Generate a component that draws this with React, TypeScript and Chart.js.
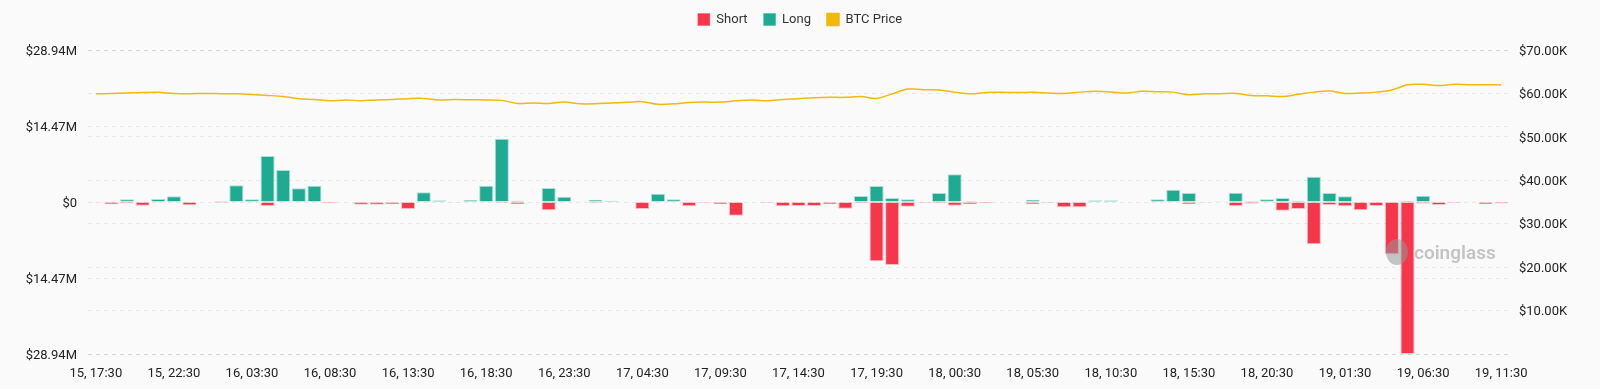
import React, { useEffect, useRef } from 'react';
import { Chart, registerables } from 'chart.js';

Chart.register(...registerables);

const FONT = "Roboto, 'Noto Sans', sans-serif";

// hourly categories, 15 17:30 -> 19 11:30
const START_DAY = 15;
const START_HOUR = 17;
const COUNT = 91;
const categories: string[] = Array.from({ length: COUNT }, (_, i) => {
  const h = START_HOUR + i;
  const d = START_DAY + Math.floor(h / 24);
  return `${d}, ${String(h % 24).padStart(2, '0')}:30`;
});

// Long liquidations ($M)
const longVals: number[] = [
  0.05, 0.05, 0.5, 0.05, 0.57, 1.08, 0.1, 0.1, 0.19, 3.17,
  0.5, 8.76, 6.1, 2.6, 3.1, 0.05, 0.1, 0, 0, 0,
  0.1, 1.84, 0.32, 0, 0.38, 3.1, 12.06, 0.25, 0.1, 2.67,
  1.0, 0.05, 0.44, 0.25, 0, 0, 1.59, 0.5, 0, 0,
  0, 0, 0.1, 0, 0, 0, 0, 0.05, 0, 1.14,
  3.05, 0.76, 0.5, 0.1, 1.71, 5.27, 0.19, 0, 0, 0.1,
  0.44, 0.05, 0, 0, 0.32, 0.32, 0, 0, 0.5, 2.35,
  1.71, 0, 0.15, 1.78, 0.19, 0.5, 0.76, 0.25, 4.82, 1.71,
  1.08, 0, 0, 0, 0.25, 1.2, 0.13, 0.05, 0.05, 0,
  0.05,
];

// Short liquidations ($M, magnitude)
const shortVals: number[] = [
  0.12, 0.45, 0.3, 0.7, 0.05, 0.05, 0.63, 0, 0.2, 0.1,
  0.05, 0.76, 0, 0, 0, 0.25, 0, 0.5, 0.5, 0.45,
  1.33, 0, 0, 0.15, 0.1, 0.1, 0.2, 0.45, 0.1, 1.59,
  0, 0.1, 0.2, 0.1, 0.1, 1.33, 0, 0, 0.82, 0.02,
  0.45, 2.6, 0, 0.2, 0.82, 0.76, 0.76, 0.44, 1.27, 0.25,
  11.3, 12.0, 0.89, 0.2, 0.25, 0.7, 0.44, 0.25, 0.1, 0,
  0.44, 0.2, 1.0, 1.0, 0, 0, 0.1, 0.1, 0, 0,
  0.44, 0.15, 0, 0.76, 0.32, 0.05, 1.65, 1.33, 8.06, 0.57,
  0.82, 1.59, 0.76, 9.97, 28.94, 0.32, 0.57, 0.2, 0.1, 0.44,
  0.3,
];

// BTC price ($K)
const priceVals: number[] = [
  59.9, 60.0, 60.1, 60.2, 60.25, 60.0, 59.95, 60.0, 59.95, 59.9,
  59.75, 59.55, 59.3, 58.8, 58.6, 58.3, 58.5, 58.3, 58.5, 58.6,
  58.8, 58.85, 58.5, 58.6, 58.55, 58.5, 58.4, 57.7, 57.8, 57.7,
  58.0, 57.6, 57.6, 57.8, 57.95, 58.1, 57.5, 57.6, 57.9, 58.0,
  58.0, 58.3, 58.5, 58.3, 58.6, 58.8, 59.0, 59.1, 59.1, 59.3,
  58.85, 59.9, 61.0, 60.85, 60.8, 60.3, 59.9, 60.2, 60.25, 60.2,
  60.25, 60.1, 60.0, 60.3, 60.5, 60.35, 60.1, 60.5, 60.4, 60.3,
  59.7, 59.9, 59.95, 60.0, 59.5, 59.45, 59.3, 59.8, 60.3, 60.55,
  60.0, 60.1, 60.3, 60.8, 62.0, 62.1, 61.8, 62.1, 62.0, 62.0,
  61.95,
];

const leftTicks: number[] = [-28.94, -14.47, 0, 14.47, 28.94];
const rightTicks: number[] = [0, 10, 20, 30, 40, 50, 60, 70];

const RED = 'rgb(246, 54, 74)';
const TEAL = 'rgb(31, 170, 146)';
const YELLOW = 'rgb(240, 185, 11)';

const legendSpacer = {
  id: 'legendSpacer',
  beforeInit(chart: any) {
    const fit = chart.legend.fit;
    chart.legend.fit = function () {
      fit.call(this);
      this.height = 50;
    };
  },
  afterLayout(chart: any) {
    chart.legend.top = -3;
  },
};

const watermark = {
  id: 'watermark',
  afterDatasetsDraw(chart: any) {
    const ctx = chart.ctx;
    ctx.save();
    ctx.fillStyle = 'rgba(150, 150, 150, 0.55)';
    ctx.beginPath();
    ctx.ellipse(1397, 252, 11, 13, 0, 0, Math.PI * 2);
    ctx.fill();
    ctx.font = `600 19px ${FONT}`;
    ctx.textAlign = 'left';
    ctx.textBaseline = 'middle';
    ctx.fillText('coinglass', 1414, 254);
    ctx.restore();
  },
};

export default function App() {
  const ref = useRef<HTMLCanvasElement>(null);
  useEffect(() => {
    document.body.style.margin = '0';
    const gridCommon = {
      color: 'rgba(0, 0, 0, 0.07)',
      drawTicks: false,
    };
    const chart = new Chart(ref.current!, {
      type: 'bar',
      data: {
        labels: categories,
        datasets: [
          {
            type: 'bar',
            label: 'Short',
            data: shortVals.map((v) => -v),
            backgroundColor: RED,
            borderColor: 'rgba(246, 54, 74, 0.3)',
            borderWidth: 1,
            yAxisID: 'y',
            barPercentage: 0.95,
            categoryPercentage: 0.95,
          },
          {
            type: 'bar',
            label: 'Long',
            data: longVals,
            backgroundColor: TEAL,
            borderColor: 'rgba(31, 170, 146, 0.35)',
            borderWidth: 1,
            yAxisID: 'y',
            barPercentage: 0.95,
            categoryPercentage: 0.95,
          },
          {
            type: 'line',
            label: 'BTC Price',
            data: priceVals,
            borderColor: YELLOW,
            backgroundColor: YELLOW,
            borderWidth: 1.5,
            pointRadius: 0,
            tension: 0.35,
            fill: false,
            yAxisID: 'y1',
          } as any,
        ],
      },
      options: {
        animation: false,
        responsive: true,
        maintainAspectRatio: false,
        layout: { padding: 0 },
        plugins: {
          legend: {
            display: true,
            position: 'top',
            align: 'center',
            labels: {
              boxWidth: 12,
              boxHeight: 12,
              padding: 16,
              color: '#333',
              font: { family: FONT, size: 13 },
            },
          },
          tooltip: { enabled: false },
        },
        scales: {
          x: {
            stacked: true,
            grid: { display: false, drawTicks: false },
            border: { display: false },
            ticks: {
              autoSkip: false,
              maxRotation: 0,
              minRotation: 0,
              padding: 12,
              color: '#222',
              font: { family: FONT, size: 13 },
              callback: (_v: any, i: number) => (i % 5 === 0 ? categories[i] : ''),
            },
            afterFit: (s: any) => {
              s.height = 35;
            },
          },
          y: {
            stacked: true,
            position: 'left',
            min: leftTicks[0],
            max: leftTicks[leftTicks.length - 1],
            grid: gridCommon,
            border: { display: false, dash: [4, 4] },
            afterBuildTicks: (s: any) => {
              s.ticks = leftTicks.map((v) => ({ value: v }));
            },
            ticks: {
              padding: 11,
              labelOffset: 1.5,
              color: '#222',
              font: { family: FONT, size: 13 },
              callback: (v: any) => (Number(v) === 0 ? '$0' : '$' + Math.abs(Number(v)).toFixed(2) + 'M'),
            },
            afterFit: (s: any) => {
              s.width = 88;
            },
          },
          y1: {
            position: 'right',
            min: rightTicks[0],
            max: rightTicks[rightTicks.length - 1],
            grid: gridCommon,
            border: { display: false, dash: [4, 4] },
            afterBuildTicks: (s: any) => {
              s.ticks = rightTicks.map((v) => ({ value: v }));
            },
            ticks: {
              padding: 10,
              labelOffset: 1.5,
              color: '#222',
              font: { family: FONT, size: 13 },
              callback: (v: any) => (Number(v) === 0 ? '' : '$' + Number(v).toFixed(2) + 'K'),
            },
            afterFit: (s: any) => {
              s.width = 91;
            },
          },
        },
      },
      plugins: [legendSpacer, watermark],
    });
    return () => chart.destroy();
  }, []);
  return (
    <div style={{ width: 1600, height: 389, background: '#fafafa', position: 'relative' }}>
      <canvas ref={ref} />
    </div>
  );
}
